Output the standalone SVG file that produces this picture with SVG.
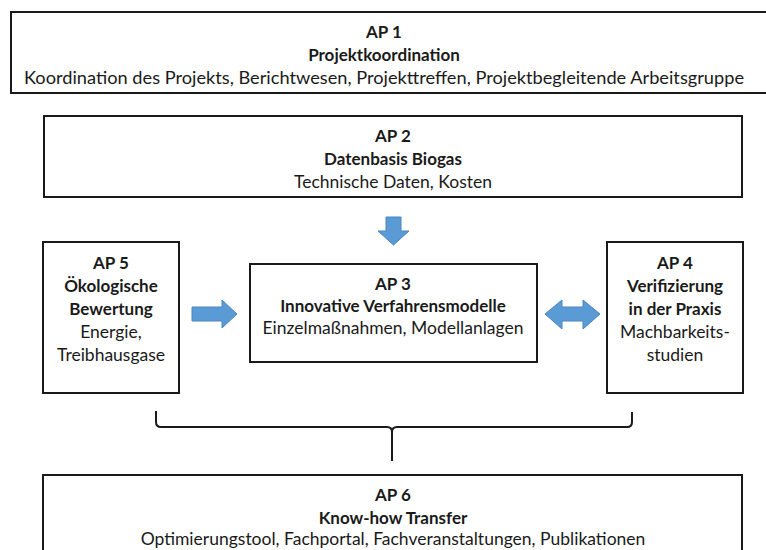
<svg xmlns="http://www.w3.org/2000/svg" width="766" height="550" viewBox="0 0 766 550">
<style>
.box{fill:#fff;stroke:#1a1a1a;stroke-width:2}
text{font-family:Lato,"Open Sans",sans-serif;font-size:17.5px;fill:#1a1a1a;text-anchor:middle}
.b{font-weight:bold;font-size:17px}
.arrow{fill:#5B9BD5;stroke:#4A86C0;stroke-width:1}
.brace{fill:none;stroke:#1a1a1a;stroke-width:2}
</style>
<rect width="766" height="550" fill="#fff"/>
<g id="ap1">
<rect class="box" x="11" y="12" width="760" height="81"/>
<text class="b" x="384" y="38">AP 1</text>
<text class="b" x="384" y="61">Projektkoordination</text>
<text x="384" y="84" textLength="720" lengthAdjust="spacingAndGlyphs">Koordination des Projekts, Berichtwesen, Projekttreffen, Projektbegleitende Arbeitsgruppe</text>
</g>
<g id="ap2">
<rect class="box" x="44" y="116" width="698" height="81"/>
<text class="b" x="393" y="142">AP 2</text>
<text class="b" x="393" y="165">Datenbasis Biogas</text>
<text x="393" y="188">Technische Daten, Kosten</text>
</g>
<g id="ap5">
<rect class="box" x="43" y="242" width="136" height="151"/>
<text class="b" x="111" y="269">AP 5</text>
<text class="b" x="111" y="292">Ökologische</text>
<text class="b" x="111" y="315">Bewertung</text>
<text x="111" y="338">Energie,</text>
<text x="111" y="361">Treibhausgase</text>
</g>
<g id="ap3">
<rect class="box" x="250" y="264" width="287" height="98"/>
<text class="b" x="393" y="290">AP 3</text>
<text class="b" x="393" y="312">Innovative Verfahrensmodelle</text>
<text x="393" y="334">Einzelmaßnahmen, Modellanlagen</text>
</g>
<g id="ap4">
<rect class="box" x="607" y="242" width="136" height="151"/>
<text class="b" x="675" y="269">AP 4</text>
<text class="b" x="675" y="292">Verifizierung</text>
<text class="b" x="675" y="315">in der Praxis</text>
<text x="675" y="338">Machbarkeits-</text>
<text x="675" y="361">studien</text>
</g>
<g id="ap6">
<rect class="box" x="43" y="475" width="699" height="90"/>
<text class="b" x="393" y="501">AP 6</text>
<text class="b" x="393" y="524">Know-how Transfer</text>
<text x="393" y="545">Optimierungstool, Fachportal, Fachveranstaltungen, Publikationen</text>
</g>
<g id="connectors">
<polygon class="arrow" points="386,217 401,217 401,231 409,231 393.5,245 378,231 386,231"/>
<polygon class="arrow" points="192,307 222,307 222,300 237,314 222,328 222,321 192,321"/>
<polygon class="arrow" points="545,314 562,300 562,307 583,307 583,300 600,314 583,329 583,321 562,321 562,329"/>
<path class="brace" d="M156,411 L156,422 Q156,427 161,427 L387,427 Q392,427 392,432 L392,461 M392,432 Q392,427 397,427 L627,427 Q632,427 632,422 L632,412"/>
</g>
</svg>
